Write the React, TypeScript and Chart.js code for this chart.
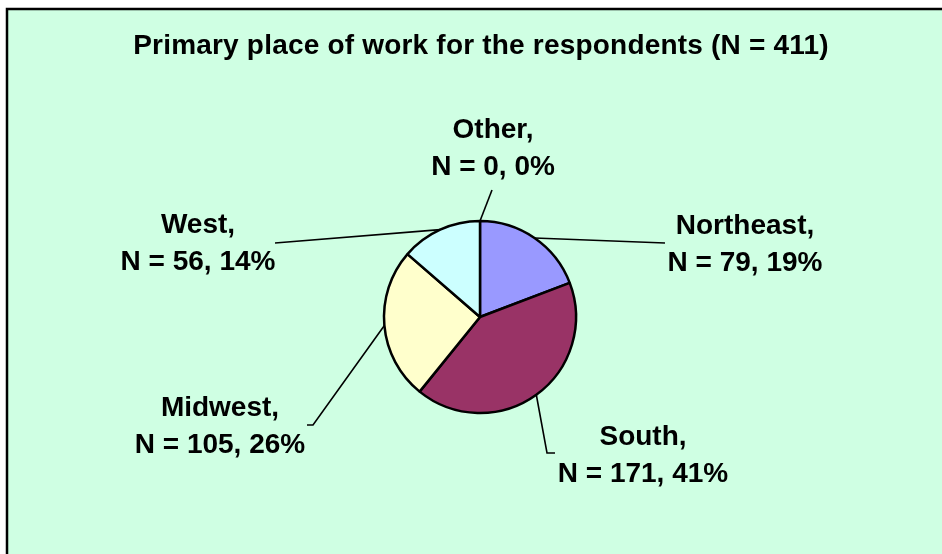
import { useEffect, useRef } from 'react';
import { Chart, registerables } from 'chart.js';

Chart.register(...registerables);

const chartTitle = 'Primary place of work for the respondents (N = 411)';
const categories = ['Northeast', 'South', 'Midwest', 'West', 'Other'];
const counts = [79, 171, 105, 56, 0];
const percents = [19, 41, 26, 14, 0];
const sliceColors = ['#9999FF', '#993366', '#FFFFCC', '#CCFFFF', '#800080'];

// Label layout, relative to the pie centre (text centre x, first baseline y, leader bend/end points)
const labelLayout = [
  { dx: 265, dy: -83, leader: [[185, -74]] },
  { dx: 163, dy: 128, leader: [[67, 136], [75, 136]] },
  { dx: -260, dy: 99, leader: [[-167, 108], [-173, 108]] },
  { dx: -282, dy: -84, leader: [[-205, -74]] },
  { dx: 13, dy: -179, leader: [[12, -127]] },
];

const FONT = 'bold 28px "Liberation Sans", Arial, sans-serif';
const LINE_H = 37;
const BG = '#CFFFE3';

const framePlugin = {
  id: 'frame',
  beforeDraw(chart: any) {
    const ctx = chart.ctx;
    ctx.save();
    ctx.fillStyle = '#FFFFFF';
    ctx.fillRect(0, 0, chart.width, chart.height);
    ctx.fillStyle = BG;
    ctx.fillRect(7, 9, chart.width + 20, chart.height + 20);
    ctx.strokeStyle = '#000000';
    ctx.lineWidth = 2.5;
    ctx.strokeRect(7, 9, chart.width + 20, chart.height + 20);
    ctx.fillStyle = '#000000';
    ctx.font = FONT;
    ctx.textAlign = 'center';
    ctx.textBaseline = 'alphabetic';
    try { (ctx as any).letterSpacing = '0.2px'; } catch (e) {}
    ctx.fillText(chartTitle, 481, 54);
    try { (ctx as any).letterSpacing = '0px'; } catch (e) {}
    ctx.restore();
  },
  afterDatasetsDraw(chart: any) {
    const ctx = chart.ctx;
    const meta = chart.getDatasetMeta(0);
    ctx.save();
    meta.data.forEach((arc: any, i: number) => {
      const p = arc.getProps(['x', 'y', 'startAngle', 'endAngle', 'outerRadius'], true);
      const mid = (p.startAngle + p.endAngle) / 2;
      const sx = p.x + Math.cos(mid) * p.outerRadius;
      const sy = p.y + Math.sin(mid) * p.outerRadius;
      const lay = labelLayout[i];
      ctx.strokeStyle = '#000000';
      ctx.lineWidth = 1.6;
      ctx.beginPath();
      ctx.moveTo(sx, sy);
      lay.leader.forEach((pt) => ctx.lineTo(p.x + pt[0], p.y + pt[1]));
      ctx.stroke();
      ctx.fillStyle = '#000000';
      ctx.font = FONT;
      ctx.textAlign = 'center';
      ctx.textBaseline = 'alphabetic';
      const cx = p.x + lay.dx;
      const by = p.y + lay.dy;
      ctx.fillText(categories[i] + ',', cx, by);
      ctx.fillText('N = ' + counts[i] + ', ' + percents[i] + '%', cx, by + LINE_H);
    });
    ctx.restore();
  },
};

export default function App() {
  const ref = useRef<HTMLCanvasElement>(null);
  useEffect(() => {
    document.body.style.margin = '0';
    const chart = new Chart(ref.current as HTMLCanvasElement, {
      type: 'pie',
      data: {
        labels: categories,
        datasets: [
          {
            data: counts,
            backgroundColor: sliceColors,
            borderColor: '#000000',
            borderWidth: 2.5,
          },
        ],
      },
      options: {
        animation: false,
        responsive: false,
        radius: 96,
        layout: { padding: { left: 118, right: 100, top: 180, bottom: 100 } },
        plugins: {
          legend: { display: false },
          tooltip: { enabled: false },
          title: { display: false },
        },
      } as any,
      plugins: [framePlugin],
    });
    return () => chart.destroy();
  }, []);
  return <canvas ref={ref} width={942} height={554} style={{ display: 'block' }} />;
}
